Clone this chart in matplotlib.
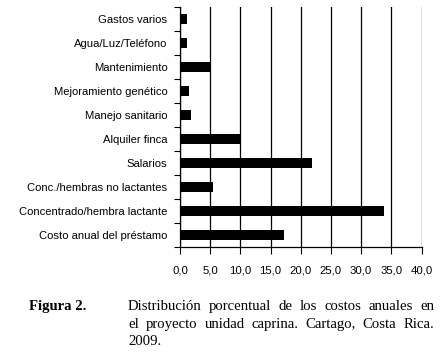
import matplotlib.pyplot as plt

categorias = [
    "Costo anual del préstamo",
    "Concentrado/hembra lactante",
    "Conc./hembras no lactantes",
    "Salarios",
    "Alquiler finca",
    "Manejo sanitario",
    "Mejoramiento genético",
    "Mantenimiento",
    "Agua/Luz/Teléfono",
    "Gastos varios",
]
porcentaje = [17.2, 33.8, 5.4, 21.8, 10.0, 1.8, 1.45, 5.0, 1.2, 1.2]
xticks = [0, 5, 10, 15, 20, 25, 30, 35, 40]
xtick_labels = ["0,0", "5,0", "10,0", "15,0", "20,0", "25,0", "30,0", "35,0", "40,0"]

caption_lines = [
    "Distribución porcentual de los costos anuales en",
    "el proyecto unidad caprina. Cartago, Costa Rica.",
    "2009.",
]

fig = plt.figure(figsize=(4.4, 3.53), dpi=100)
ax = fig.add_axes([0.409, 0.300, 0.549, 0.680])

y = list(range(len(categorias)))
ax.barh(y, porcentaje, height=0.42, color="black", zorder=3)
ax.set_ylim(-0.5, len(categorias) - 0.5)
ax.set_xlim(0, 40)

ax.set_yticks(y)
ax.set_yticklabels(categorias, fontsize=8.1, family="Liberation Sans")
ax.tick_params(axis="y", which="major", length=0, pad=9)
ax.set_yticks([i - 0.5 for i in range(len(categorias) + 1)], minor=True)
ax.tick_params(axis="y", which="minor", length=4, width=0.8, direction="out")

ax.set_xticks(xticks)
ax.set_xticklabels(xtick_labels, fontsize=8.2, family="Liberation Sans")
ax.tick_params(axis="x", length=5, width=0.8, pad=8)

ax.grid(axis="x", color="black", linewidth=0.9, zorder=0)
for s in ["top", "right"]:
    ax.spines[s].set_visible(False)
for s in ["left", "bottom"]:
    ax.spines[s].set_linewidth(0.9)

# caption, justified by hand
fs = 10.6
fig.text(29 / 440, 1 - 310 / 353, "Figura 2.", fontsize=fs, fontweight="bold",
         family="Liberation Serif", va="baseline")

renderer = fig.canvas.get_renderer()
x0, x1 = 128 / 440, 434 / 440
ys = [310, 328, 345]
for i, line in enumerate(caption_lines):
    yy = 1 - ys[i] / 353
    if i == len(caption_lines) - 1:
        fig.text(x0, yy, line, fontsize=fs, family="Liberation Serif", va="baseline")
        continue
    words = line.split(" ")
    arts = [fig.text(0, yy, w, fontsize=fs, family="Liberation Serif", va="baseline") for w in words]
    widths = [a.get_window_extent(renderer).width / fig.bbox.width for a in arts]
    gap = (x1 - x0 - sum(widths)) / (len(words) - 1)
    pos = x0
    for a, w in zip(arts, widths):
        a.set_x(pos)
        pos += w + gap

fig.savefig("out.png", dpi=100)
